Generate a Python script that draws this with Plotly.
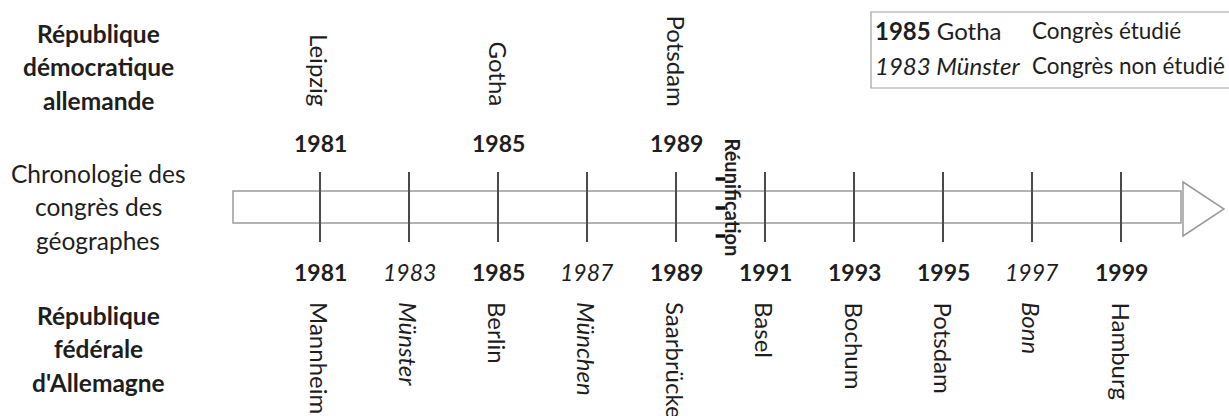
import plotly.graph_objects as go

# ---------------- data ----------------
rda_years = [1981, 1985, 1989]
rda_cities = ["Leipzig", "Gotha", "Potsdam"]

rfa_years = [1981, 1983, 1985, 1987, 1989, 1991, 1993, 1995, 1997, 1999]
rfa_cities = ["Mannheim", "Münster", "Berlin", "München", "Saarbrücken",
              "Basel", "Bochum", "Potsdam", "Bonn", "Hamburg"]
rfa_studied = [True, False, True, False, True, True, True, True, False, True]

reunification_year = 1990
reunification_label = "Réunification"

label_rda = ["République", "démocratique", "allemande"]
label_axis = ["Chronologie des", "congrès des", "géographes"]
label_rfa = ["République", "fédérale", "d'Allemagne"]

legend_samples = ["<b>1985</b> Gotha", "<i>1983 Münster</i>"]
legend_texts = ["Congrès étudié", "Congrès non étudié"]

# ---------------- layout constants ----------------
W, H = 1229, 416
FONT = "Lato"
TXT = "#1e1e1e"
X0_PX, PX_PER_YEAR, BASE_YEAR = 320, 44.5, 1981


def px_year(px):
    return BASE_YEAR + (px - X0_PX) / PX_PER_YEAR


def pp(px):
    return px / W


fig = go.Figure()

# tick lines across the timeline
tx, ty = [], []
for yr in rfa_years:
    tx += [yr, yr, None]
    ty += [172, 242, None]
fig.add_trace(go.Scatter(x=tx, y=ty, mode="lines",
                         line=dict(color="#4a4a4a", width=2),
                         hoverinfo="skip", showlegend=False))

# reunification dashes
fig.add_trace(go.Scatter(x=[reunification_year] * 3, y=[179, 208, 236],
                         mode="markers",
                         marker=dict(symbol="line-ew", size=7,
                                     line=dict(color="#111", width=3.5)),
                         hoverinfo="skip", showlegend=False))

shapes = []
# arrow shaft
shapes.append(dict(type="rect", xref="paper", yref="y",
                   x0=pp(233), x1=pp(1181), y0=191, y1=223,
                   line=dict(color="#9a9a9a", width=1.5), layer="below"))
# arrow head
shapes.append(dict(type="path", xref="paper", yref="y",
                   path=f"M {pp(1183)},182 L {pp(1224)},209 L {pp(1183)},236 Z",
                   line=dict(color="#9a9a9a", width=1.5)))
# legend box
shapes.append(dict(type="rect", xref="paper", yref="y",
                   x0=pp(871), x1=pp(1240), y0=12, y1=88,
                   line=dict(color="#a0a0a0", width=1.2)))

ann = []


def add(text, x, y, size, xref="x", xanchor="center", yanchor="middle",
        angle=0, xshift=0):
    ann.append(dict(text=text, x=x, y=y, xref=xref, yref="y",
                    xanchor=xanchor, yanchor=yanchor, textangle=angle,
                    xshift=xshift, showarrow=False,
                    font=dict(family=FONT, size=size, color=TXT)))


# top (RDA) years and cities
for yr, city in zip(rda_years, rda_cities):
    add(f"<b>{yr}</b>", yr, 143, 23)
    add(city, yr, 108, 24, yanchor="bottom", angle=90)

# bottom (RFA) years and cities
for yr, city, st in zip(rfa_years, rfa_cities, rfa_studied):
    ytxt = f"<b>{yr}</b>" if st else f"<i>{yr}</i>"
    ctxt = city if st else f"<i>{city}</i>"
    add(ytxt, yr, 272, 23)
    add(ctxt, yr, 300, 24, yanchor="top", angle=90)

# reunification label
add(f"<b>{reunification_label}</b>", reunification_year, 197, 20,
    angle=90, xshift=12)

# left side labels
for i, t in enumerate(label_rda):
    add(f"<b>{t}</b>", pp(98), 33 + i * 33.5, 24.5, xref="paper")
for i, t in enumerate(label_axis):
    add(t, pp(98), 173 + i * 33.5, 24.5, xref="paper")
for i, t in enumerate(label_rfa):
    add(f"<b>{t}</b>", pp(98), 315 + i * 33.5, 24.5, xref="paper")

# legend
for i, (s, t) in enumerate(zip(legend_samples, legend_texts)):
    add(s, pp(873), 30 + i * 35, 24, xref="paper", xanchor="left")
    add(t, pp(1030), 30 + i * 35, 22.5, xref="paper", xanchor="left")

fig.update_layout(
    width=W, height=H,
    margin=dict(l=0, r=0, t=0, b=0),
    paper_bgcolor="white", plot_bgcolor="white",
    xaxis=dict(range=[px_year(0), px_year(W)], visible=False, fixedrange=True),
    yaxis=dict(range=[H, 0], visible=False, fixedrange=True),
    shapes=shapes, annotations=ann, showlegend=False,
)

fig.write_html("out.html", config={"displayModeBar": False},
               post_script="document.body.style.margin='0';"
                           "document.body.style.overflow='hidden';")
